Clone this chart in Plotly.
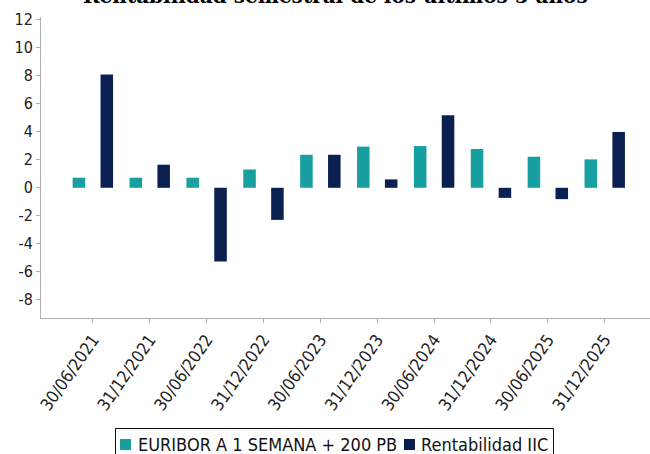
import plotly.graph_objects as go

categories = ["30/06/2021", "31/12/2021", "30/06/2022", "31/12/2022", "30/06/2023",
              "31/12/2023", "30/06/2024", "31/12/2024", "30/06/2025", "31/12/2025"]
euribor = [0.72, 0.72, 0.72, 1.31, 2.36, 2.94, 2.98, 2.77, 2.22, 2.03]
rentabilidad = [8.1, 1.65, -5.27, -2.29, 2.36, 0.6, 5.18, -0.72, -0.81, 3.99]
series_names = ["EURIBOR A 1 SEMANA + 200 PB", "Rentabilidad IIC"]
title_text = "Rentabilidad semestral de los últimos 5 años"
y_ticks = [-8, -6, -4, -2, 0, 2, 4, 6, 8, 10, 12]
y_ticktext = [str(v) for v in y_ticks]

TEAL = "#18a0a0"
NAVY = "#0a2050"
COLORS = [TEAL, NAVY]
FONT = "DejaVu Sans Condensed, DejaVu Sans"

W, H = 650, 454
ML, MR, MT, MB = 41, 0, 17, 136
PW, PH = W - ML - MR, H - MT - MB


def px(x):
    return (x - ML) / PW


def py(y):
    return (H - MB - y) / PH


fig = go.Figure()
for name, vals, col in zip(series_names, [euribor, rentabilidad], COLORS):
    fig.add_trace(go.Bar(x=categories, y=vals, name=name,
                         marker=dict(color=col, line=dict(width=0)), showlegend=False))

shapes = [dict(type="rect", xref="paper", yref="paper", x0=px(115.5), x1=px(553.5),
               y0=py(470), y1=py(428.5), line=dict(color="#111111", width=1),
               fillcolor="rgba(0,0,0,0)")]
annotations = [dict(text="<b>" + title_text + "</b>", xref="paper", yref="paper",
                    x=px(335), y=py(-3.5), xanchor="center", yanchor="middle", showarrow=False,
                    font=dict(family="DejaVu Serif", size=20, color="#000000"))]
legend_x = [(120, 135.5), (404, 418.5)]
for (sx, tx), name, col in zip(legend_x, series_names, COLORS):
    shapes.append(dict(type="rect", xref="paper", yref="paper", x0=px(sx), x1=px(sx + 11),
                       y0=py(450), y1=py(439), line=dict(width=0), fillcolor=col))
    annotations.append(dict(text=name, xref="paper", yref="paper", x=px(tx), y=py(444),
                            xanchor="left", yanchor="middle", showarrow=False,
                            font=dict(family=FONT, size=18, color="#111111")))

fig.update_layout(
    width=W, height=H,
    margin=dict(l=ML, r=MR, t=MT, b=MB),
    paper_bgcolor="white", plot_bgcolor="white",
    barmode="group", bargap=0.02, bargroupgap=0.55,
    font=dict(family=FONT, color="#222222"),
    showlegend=False,
    hovermode=False,
    shapes=shapes,
    annotations=annotations,
)
fig.update_xaxes(type="category", range=[-0.912, 9.796], showline=True, linecolor="#b0b0b0",
                 linewidth=1, ticks="outside", ticklen=4, tickcolor="#b0b0b0",
                 tickangle=-55, tickfont=dict(size=17, color="#222222"), showgrid=False,
                 zeroline=False, automargin=False)
fig.update_yaxes(range=[-9.3, 12.2], tickvals=y_ticks, ticktext=y_ticktext, showline=True,
                 linecolor="#b0b0b0", linewidth=1, ticks="outside", ticklen=4,
                 tickcolor="#b0b0b0", tickfont=dict(size=16, color="#222222"), showgrid=False,
                 zeroline=False, automargin=False)

fig.write_html("out.html", config={"displayModeBar": False},
               post_script="document.body.style.margin='0';document.body.style.overflow='hidden';")
